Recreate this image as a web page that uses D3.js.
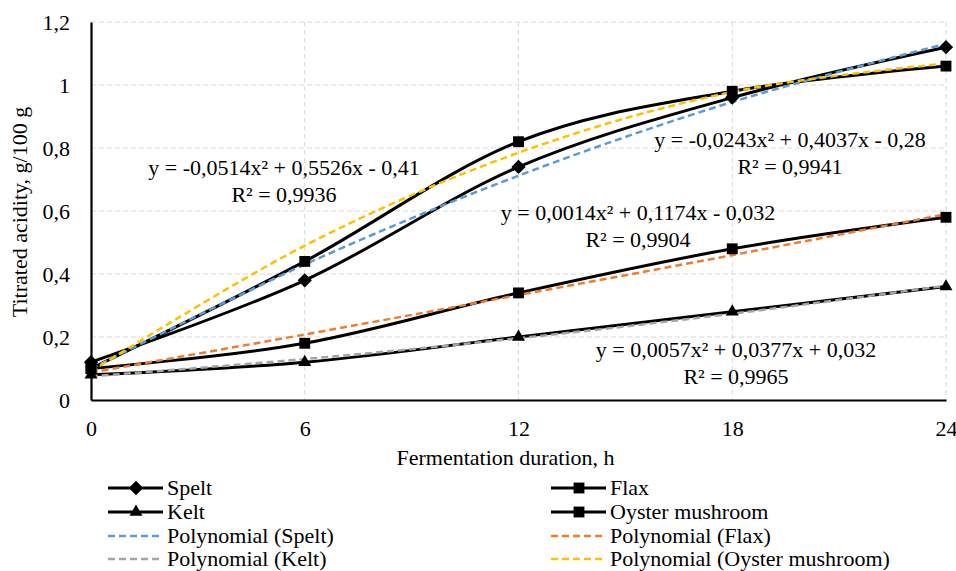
<!DOCTYPE html>
<html>
<head>
<meta charset="utf-8">
<script src="https://cdn.jsdelivr.net/npm/d3@7"></script>
</head>
<body style="margin:0">
<svg id="fig" width="956" height="571" font-family="Liberation Serif"></svg>
<script>
const hours = [0, 6, 12, 18, 24];
const yTicks = [0, 0.2, 0.4, 0.6, 0.8, 1, 1.2];

// measured values
const spelt = [0.12, 0.38, 0.74, 0.96, 1.12];
const flax = [0.10, 0.18, 0.34, 0.48, 0.58];
const kelt = [0.08, 0.12, 0.20, 0.28, 0.36];
const oyster = [0.10, 0.44, 0.82, 0.98, 1.06];

// trendline values at each hour
const trendSpelt = [0.099, 0.430, 0.712, 0.946, 1.131];
const trendFlax = [0.087, 0.208, 0.333, 0.460, 0.590];
const trendKelt = [0.075, 0.130, 0.196, 0.274, 0.363];
const trendOyster = [0.091, 0.490, 0.785, 0.978, 1.068];

const equations = [
  {lines: ['y = -0,0514x² + 0,5526x - 0,41', 'R² = 0,9936'], x: 284, y: 0.735},
  {lines: ['y = -0,0243x² + 0,4037x - 0,28', 'R² = 0,9941'], x: 790, y: 0.825},
  {lines: ['y = 0,0014x² + 0,1174x - 0,032', 'R² = 0,9904'], x: 638, y: 0.593},
  {lines: ['y = 0,0057x² + 0,0377x + 0,032', 'R² = 0,9965'], x: 736, y: 0.158}
];

const FONT = 'Liberation Serif';

const svg = d3.select('#fig'),
    margin = {top: 22, right: 10, bottom: 171, left: 91},
    width = 855,
    height = 378,
    g = svg.append('g').attr('transform', `translate(${margin.left},${margin.top})`);

const x = d3.scaleLinear().domain([0, 24]).range([0, width]);
const y = d3.scaleLinear().domain([0, 1.2]).range([height, 0]);

// grid
g.append('g')
  .selectAll('line')
  .data(yTicks.slice(1))
  .join('line')
    .attr('x1', 0).attr('x2', width)
    .attr('y1', d => y(d)).attr('y2', d => y(d))
    .attr('stroke', '#d9d9d9').attr('stroke-width', 1).attr('stroke-dasharray', '5,3');

g.append('g')
  .selectAll('line')
  .data(hours.slice(1))
  .join('line')
    .attr('x1', d => x(d)).attr('x2', d => x(d))
    .attr('y1', 0).attr('y2', height)
    .attr('stroke', '#d9d9d9').attr('stroke-width', 1).attr('stroke-dasharray', '5,3');

// axes
const yAxis = g.append('g')
  .call(d3.axisLeft(y).tickValues(yTicks).tickSize(0).tickPadding(21)
    .tickFormat(d => String(d).replace('.', ',')))
  .attr('font-family', FONT)
  .attr('font-size', 22);
yAxis.select('.domain').attr('stroke', '#000').attr('stroke-width', 2.2);
yAxis.selectAll('text').attr('font-family', FONT);

const xAxis = g.append('g')
  .attr('transform', `translate(0,${height})`)
  .call(d3.axisBottom(x).tickValues(hours).tickSize(0).tickPadding(20))
  .attr('font-family', FONT)
  .attr('font-size', 22);
xAxis.select('.domain').attr('stroke', '#000').attr('stroke-width', 2.2);
xAxis.selectAll('text').attr('font-family', FONT);

svg.append('text')
  .attr('x', margin.left + width / 2 - 13)
  .attr('y', 465)
  .attr('text-anchor', 'middle')
  .attr('font-family', FONT)
  .attr('font-size', 22)
  .text('Fermentation duration, h');

svg.append('text')
  .attr('transform', 'translate(27,212) rotate(-90)')
  .attr('text-anchor', 'middle')
  .attr('font-family', FONT)
  .attr('font-size', 22)
  .text('Titrated acidity, g/100 g');

const series = [
  {name: 'Spelt', values: spelt, marker: 'diamond'},
  {name: 'Flax', values: flax, marker: 'square'},
  {name: 'Kelt', values: kelt, marker: 'triangle'},
  {name: 'Oyster mushroom', values: oyster, marker: 'square'}
];
const trends = [
  {name: 'Polynomial (Spelt)', values: trendSpelt, color: '#5b9bd5'},
  {name: 'Polynomial (Flax)', values: trendFlax, color: '#ed7d31'},
  {name: 'Polynomial (Kelt)', values: trendKelt, color: '#a5a5a5'},
  {name: 'Polynomial (Oyster mushroom)', values: trendOyster, color: '#ffc000'}
];

const symbols = {
  diamond: d3.symbol().type(d3.symbolDiamond2).size(130),
  square: d3.symbol().type(d3.symbolSquare2).size(150),
  triangle: d3.symbol().type(d3.symbolTriangle2).size(120)
};

const line = d3.line()
  .x((d, i) => x(hours[i]))
  .y(d => y(d))
  .curve(d3.curveCardinal.tension(0));

g.selectAll('.series')
  .data(series)
  .join('path')
    .attr('class', 'series')
    .attr('fill', 'none')
    .attr('stroke', '#000')
    .attr('stroke-width', 3)
    .attr('d', d => line(d.values));

g.selectAll('.trend')
  .data(trends)
  .join('path')
    .attr('class', 'trend')
    .attr('fill', 'none')
    .attr('stroke', d => d.color)
    .attr('stroke-width', 2.5)
    .attr('stroke-dasharray', '7,4')
    .attr('d', d => line(d.values));

series.forEach(s => {
  g.append('g')
    .selectAll('path')
    .data(s.values)
    .join('path')
      .attr('transform', (d, i) => `translate(${x(hours[i])},${y(d)})`)
      .attr('d', symbols[s.marker]())
      .attr('fill', '#000');
});

// equations
equations.forEach(e => {
  const t = g.append('text')
    .attr('text-anchor', 'middle')
    .attr('font-family', FONT)
    .attr('font-size', 22);
  e.lines.forEach((l, i) => {
    t.append('tspan')
      .attr('x', e.x - margin.left)
      .attr('y', y(e.y) + 7 + i * 27)
      .text(l);
  });
});

// legend
const legendItems = [
  {label: 'Spelt', kind: 'series', marker: 'diamond'},
  {label: 'Flax', kind: 'series', marker: 'square'},
  {label: 'Kelt', kind: 'series', marker: 'triangle'},
  {label: 'Oyster mushroom', kind: 'series', marker: 'square'},
  {label: trends[0].name, kind: 'trend', color: trends[0].color},
  {label: trends[1].name, kind: 'trend', color: trends[1].color},
  {label: trends[2].name, kind: 'trend', color: trends[2].color},
  {label: trends[3].name, kind: 'trend', color: trends[3].color}
];
const legendCols = [108, 551];
const legendRows = [488, 512, 536, 559];

const legend = svg.append('g');
legendItems.forEach((it, i) => {
  const lx = legendCols[i % 2], ly = legendRows[Math.floor(i / 2)];
  const item = legend.append('g').attr('transform', `translate(${lx},${ly})`);
  if (it.kind === 'series') {
    item.append('line').attr('x1', 0).attr('x2', 55).attr('y1', 0).attr('y2', 0)
      .attr('stroke', '#000').attr('stroke-width', 3);
    item.append('path').attr('transform', 'translate(28,0)')
      .attr('d', symbols[it.marker]()).attr('fill', '#000');
  } else {
    item.append('line').attr('x1', 0).attr('x2', 55).attr('y1', 0).attr('y2', 0)
      .attr('stroke', it.color).attr('stroke-width', 2.5).attr('stroke-dasharray', '7,4');
  }
  item.append('text')
    .attr('x', 59)
    .attr('y', 7)
    .attr('font-family', FONT)
    .attr('font-size', 22)
    .text(it.label);
});
</script>
</body>
</html>
